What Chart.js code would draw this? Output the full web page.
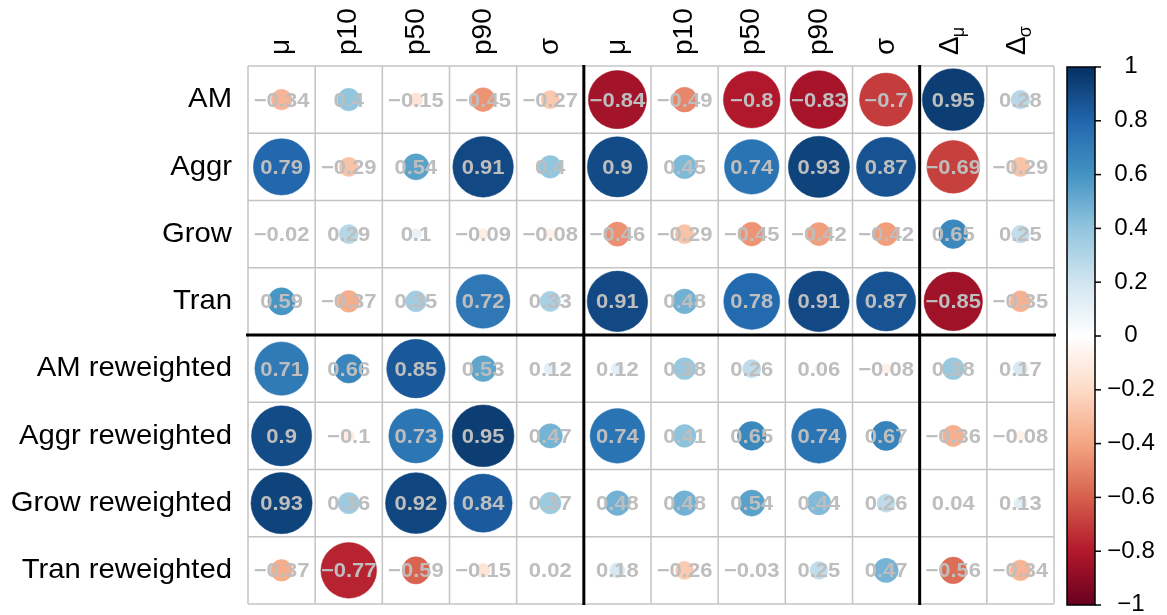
<!DOCTYPE html>
<html>
<head>
<meta charset="utf-8">
<script src="https://cdn.jsdelivr.net/npm/chart.js@4.4.1/dist/chart.umd.min.js"></script>
<style>
  html, body { margin: 0; padding: 0; background: #ffffff; }
  #wrap { width: 1167px; height: 615px; position: relative; }
</style>
</head>
<body>
<div id="wrap"><canvas id="corr"></canvas></div>
<script>
const rowLabels = ['AM', 'Aggr', 'Grow', 'Tran', 'AM reweighted', 'Aggr reweighted', 'Grow reweighted', 'Tran reweighted'];
const colLabels = ['μ', 'p10', 'p50', 'p90', 'σ', 'μ', 'p10', 'p50', 'p90', 'σ', 'Δμ', 'Δσ'];

// correlations (number + colour), one row each
const corrAM       = [-0.34, 0.4, -0.15, -0.45, -0.27, -0.84, -0.49, -0.8, -0.83, -0.7, 0.95, 0.28];
const corrAggr     = [0.79, -0.29, 0.54, 0.91, 0.4, 0.9, 0.45, 0.74, 0.93, 0.87, -0.69, -0.29];
const corrGrow     = [-0.02, 0.29, 0.1, -0.09, -0.08, -0.46, -0.29, -0.45, -0.42, -0.42, 0.65, 0.25];
const corrTran     = [0.59, -0.37, 0.35, 0.72, 0.33, 0.91, 0.48, 0.78, 0.91, 0.87, -0.85, -0.35];
const corrAMrw     = [0.71, 0.66, 0.85, 0.53, 0.12, 0.12, 0.38, 0.26, 0.06, -0.08, 0.38, 0.17];
const corrAggrRw   = [0.9, -0.1, 0.73, 0.95, 0.47, 0.74, 0.41, 0.65, 0.74, 0.67, -0.36, -0.08];
const corrGrowRw   = [0.93, 0.36, 0.92, 0.84, 0.37, 0.48, 0.48, 0.54, 0.44, 0.26, 0.04, 0.13];
const corrTranRw   = [-0.37, -0.77, -0.59, -0.15, 0.02, 0.18, -0.26, -0.03, 0.25, 0.47, -0.56, -0.34];

// 1 = circle drawn full size, 0 = circle drawn reduced
const fullAM       = [0, 0, 0, 0, 0, 1, 0, 1, 1, 1, 1, 0];
const fullAggr     = [1, 0, 0, 1, 0, 1, 0, 1, 1, 1, 1, 0];
const fullGrow     = [0, 0, 0, 0, 0, 0, 0, 0, 0, 0, 0, 0];
const fullTran     = [0, 0, 0, 1, 0, 1, 0, 1, 1, 1, 1, 0];
const fullAMrw     = [1, 0, 1, 0, 0, 0, 0, 0, 0, 0, 0, 0];
const fullAggrRw   = [1, 0, 1, 1, 0, 1, 0, 0, 1, 0, 0, 0];
const fullGrowRw   = [1, 0, 1, 1, 0, 0, 0, 0, 0, 0, 0, 0];
const fullTranRw   = [0, 1, 0, 0, 0, 0, 0, 0, 0, 0, 0, 0];

const corrRows = [corrAM, corrAggr, corrGrow, corrTran, corrAMrw, corrAggrRw, corrGrowRw, corrTranRw];
const fullRows = [fullAM, fullAggr, fullGrow, fullTran, fullAMrw, fullAggrRw, fullGrowRw, fullTranRw];

const colBreaks = [5, 10];
const rowBreaks = [4];
const legendTicks = [1, 0.8, 0.6, 0.4, 0.2, 0, -0.2, -0.4, -0.6, -0.8, -1];

// RdBu, from -1 to 1
const RDBU = ['#67001F', '#B2182B', '#D6604D', '#F4A582', '#FDDBC7', '#FFFFFF',
              '#D1E5F0', '#92C5DE', '#4393C3', '#2166AC', '#053061'];

const FONT = "'Liberation Sans', Arial, sans-serif";

function hexToRgb(h) {
  const n = parseInt(h.slice(1), 16);
  return [(n >> 16) & 255, (n >> 8) & 255, n & 255];
}

function corrColor(v) {
  const t = (Math.max(-1, Math.min(1, v)) + 1) / 2 * (RDBU.length - 1);
  const i = Math.min(Math.floor(t), RDBU.length - 2);
  const f = t - i;
  const a = hexToRgb(RDBU[i]), b = hexToRgb(RDBU[i + 1]);
  const c = a.map((x, k) => Math.round(x + (b[k] - x) * f));
  return `rgb(${c[0]},${c[1]},${c[2]})`;
}

const fmt = v => String(v).replace('-', '\u2212');

const points = [];
corrRows.forEach((row, r) => {
  row.forEach((v, c) => points.push({ x: c, y: r, v: v, full: fullRows[r][c] }));
});

function cellColor(c) {
  const p = points[c.dataIndex];
  return p ? corrColor(p.v) : '#ffffff';
}

function cellRadius(c) {
  const p = points[c.dataIndex];
  const xs = c.chart.scales.x;
  if (!p || !xs || !xs.width) return 0;
  const half = xs.width / colLabels.length / 2;
  return Math.sqrt(Math.abs(p.v)) * half * (p.full ? 0.945 : 0.53);
}

// text slightly wider than the plain font
function wideText(ctx, text, x, y, sx) {
  ctx.save();
  ctx.translate(x, y);
  ctx.scale(sx, 1);
  ctx.fillText(text, 0, 0);
  ctx.restore();
}

const corrPlugin = {
  id: 'corrDecor',
  beforeDatasetsDraw(chart) {
    const { ctx, chartArea: a, scales: { x, y } } = chart;
    const cw = (a.right - a.left) / colLabels.length;
    const ch = (a.bottom - a.top) / rowLabels.length;
    ctx.save();
    ctx.strokeStyle = '#c4c4c4';
    ctx.lineWidth = 1.5;
    for (let i = 0; i <= colLabels.length; i++) {
      const px = x.getPixelForValue(i) - cw / 2;
      ctx.beginPath(); ctx.moveTo(px, a.top); ctx.lineTo(px, a.bottom); ctx.stroke();
    }
    for (let j = 0; j <= rowLabels.length; j++) {
      const py = y.getPixelForValue(j) - ch / 2;
      ctx.beginPath(); ctx.moveTo(a.left, py); ctx.lineTo(a.right, py); ctx.stroke();
    }
    ctx.restore();
  },
  afterDatasetsDraw(chart) {
    const { ctx, chartArea: a, scales: { x, y } } = chart;
    const cw = (a.right - a.left) / colLabels.length;
    const ch = (a.bottom - a.top) / rowLabels.length;
    ctx.save();

    // numbers in cells
    ctx.fillStyle = '#bebebe';
    ctx.font = `bold 20px ${FONT}`;
    ctx.textAlign = 'center';
    ctx.textBaseline = 'middle';
    points.forEach(p => {
      wideText(ctx, fmt(p.v), x.getPixelForValue(p.x), y.getPixelForValue(p.y) + 1.5, 1.1);
    });

    // group separators
    ctx.strokeStyle = '#000000';
    ctx.lineWidth = 3;
    colBreaks.forEach(i => {
      const px = x.getPixelForValue(i) - cw / 2;
      ctx.beginPath(); ctx.moveTo(px, a.top - 1); ctx.lineTo(px, a.bottom + 1); ctx.stroke();
    });
    rowBreaks.forEach(j => {
      const py = y.getPixelForValue(j) - ch / 2;
      ctx.beginPath(); ctx.moveTo(a.left - 2, py); ctx.lineTo(a.right + 2, py); ctx.stroke();
    });

    // row labels
    ctx.fillStyle = '#000000';
    ctx.font = `28px ${FONT}`;
    ctx.textAlign = 'right';
    ctx.textBaseline = 'middle';
    rowLabels.forEach((lab, j) => wideText(ctx, lab, a.left - 16, y.getPixelForValue(j), 1.045));

    // column labels, rotated
    colLabels.forEach((lab, i) => {
      const cx = x.getPixelForValue(i);
      ctx.save();
      ctx.translate(cx, a.top - 11);
      ctx.rotate(-Math.PI / 2);
      ctx.textAlign = 'left';
      if (lab[0] === 'Δ') {
        ctx.font = `28px ${FONT}`;
        ctx.textBaseline = 'alphabetic';
        ctx.fillText('Δ', 0, 5);
        const w = ctx.measureText('Δ').width;
        ctx.font = `18px ${FONT}`;
        ctx.fillText(lab.slice(1), w - 1, 11);
      } else {
        ctx.font = `28px ${FONT}`;
        ctx.textBaseline = 'middle';
        ctx.fillText(lab, 0, 0);
      }
      ctx.restore();
    });

    // colour legend
    const bx = a.right + 13, bw = 28, by = a.top + 1, bh = a.bottom - a.top;
    const g = ctx.createLinearGradient(0, by + bh, 0, by);
    RDBU.forEach((c, k) => g.addColorStop(k / (RDBU.length - 1), c));
    ctx.fillStyle = g;
    ctx.fillRect(bx, by, bw, bh);
    ctx.strokeStyle = '#000000';
    ctx.lineWidth = 1.5;
    ctx.strokeRect(bx, by, bw, bh);
    ctx.fillStyle = '#000000';
    ctx.font = `23px ${FONT}`;
    ctx.textAlign = 'center';
    ctx.textBaseline = 'middle';
    legendTicks.forEach(t => {
      const py = by + (1 - (t + 1) / 2) * bh;
      ctx.beginPath(); ctx.moveTo(bx + bw, py); ctx.lineTo(bx + bw + 6, py); ctx.stroke();
      wideText(ctx, fmt(t), bx + bw + 36, py, 1.05);
    });

    ctx.restore();
  }
};

new Chart(document.getElementById('corr').getContext('2d'), {
  type: 'scatter',
  data: {
    datasets: [{
      data: points,
      pointBackgroundColor: cellColor,
      pointBorderColor: cellColor,
      pointBorderWidth: 0.5,
      pointRadius: cellRadius,
      pointHoverRadius: cellRadius,
      showLine: false
    }]
  },
  options: {
    responsive: true,
    maintainAspectRatio: false,
    animation: false,
    events: [],
    layout: { padding: { left: 248, top: 66, right: 113, bottom: 11 } },
    plugins: {
      legend: { display: false },
      tooltip: { enabled: false }
    },
    scales: {
      x: { type: 'category', labels: colLabels.map((_, i) => i), offset: true, display: false },
      y: { type: 'category', labels: rowLabels.map((_, i) => i), offset: true, display: false }
    }
  },
  plugins: [corrPlugin]
});
</script>
</body>
</html>
